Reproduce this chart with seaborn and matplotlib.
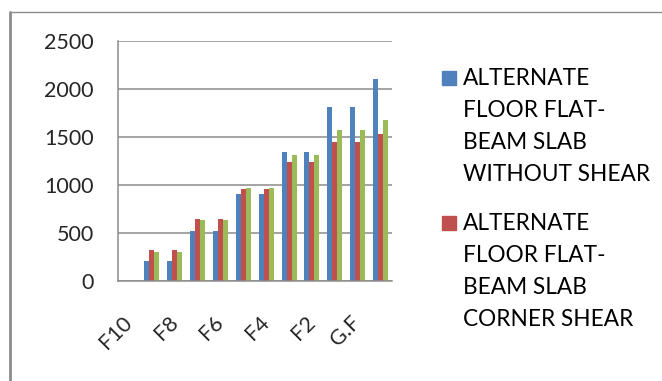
import numpy as np
import pandas as pd
import matplotlib
matplotlib.use('Agg')
import matplotlib.pyplot as plt
from matplotlib.lines import Line2D
from matplotlib.patches import Rectangle
import seaborn as sns

# data (12 floors, three series)
floors = ['F10', 'F9', 'F8', 'F7', 'F6', 'F5', 'F4', 'F3', 'F2', 'F1', 'G.F', 'BASE']
without_shear = [0, 205, 205, 517, 517, 903, 903, 1340, 1340, 1809, 1809, 2101]
corner_shear = [0, 320, 320, 642, 642, 955, 955, 1236, 1236, 1441, 1441, 1528]
third_series = [0, 299, 299, 632, 632, 969, 969, 1306, 1306, 1570, 1570, 1677]

series_names = ['ALTERNATE\nFLOOR FLAT-\nBEAM SLAB\nWITHOUT SHEAR',
                'ALTERNATE\nFLOOR FLAT-\nBEAM SLAB\nCORNER SHEAR',
                'ALTERNATE\nFLOOR FLAT-\nBEAM SLAB\nEDGE SHEAR']
colors = ['#4F81BD', '#C0504D', '#9BBB59']
yticks = [0, 500, 1000, 1500, 2000, 2500]

sns.set_style("white")
plt.rcParams['font.family'] = ['Lato', 'DejaVu Sans']

df = pd.DataFrame({
    'floor': floors * 3,
    'series': np.repeat(series_names, len(floors)),
    'value': without_shear + corner_shear + third_series,
})

fig = plt.figure(figsize=(6.62, 3.81), dpi=100)
ax = fig.add_axes([117.5 / 662, 1 - 280.7 / 381, (392 - 117.5) / 662, (280.7 - 40.7) / 381])

sns.barplot(data=df, x='floor', y='value', hue='series', order=floors,
            hue_order=series_names, palette=colors, saturation=1,
            width=0.655, gap=0, linewidth=0, ax=ax, legend=False)

grey = '#8C8C8C'
ax.set_ylim(0, 2500)
ax.set_xlim(-0.5, len(floors) - 0.5)
ax.set_yticks(yticks)
ax.set_yticklabels([str(v) for v in yticks], fontsize=15.5)
ax.yaxis.grid(True, color=grey, linewidth=1.1)
ax.set_axisbelow(True)

# labels on every other floor, tick marks on category boundaries
ax.set_xticks(range(0, len(floors) - 1, 2))
ax.set_xticklabels(floors[:-1:2], fontsize=15.5, rotation=45, ha='right',
                   va='center', rotation_mode='anchor')
ax.set_xticks(np.arange(-0.5, len(floors), 1), minor=True)
ax.tick_params(axis='x', which='major', length=0, pad=28)
ax.tick_params(axis='x', which='minor', length=6, width=1.1, color=grey, direction='out')
ax.tick_params(axis='y', length=6, width=1.1, color=grey, direction='out', pad=11)
ax.set_xlabel('')
ax.set_ylabel('')
for side in ['top', 'right']:
    ax.spines[side].set_visible(False)
for side in ['left', 'bottom']:
    ax.spines[side].set_color(grey)
    ax.spines[side].set_linewidth(1.1)

# legend: only the first two entries fit, as in the original
W, H = 662, 381
for i, (name, color) in enumerate(zip(series_names[:2], colors[:2])):
    top = 71 + i * 145
    fig.add_artist(Rectangle((441.5 / W, 1 - (top + 14) / H), 14 / W, 14 / H,
                             transform=fig.transFigure, color=color))
    for j, line in enumerate(name.split('\n')):
        fig.text(463 / W, 1 - (top + 14 + j * 32) / H, line, fontsize=16.3,
                 va='baseline', ha='left', color='black')

# chart-area frame (cut off at right and bottom)
fig.add_artist(Line2D([9.5 / W, 9.5 / W], [0, 1 - 11.5 / H], transform=fig.transFigure,
                      color=grey, linewidth=2))
fig.add_artist(Line2D([9.5 / W, 1], [1 - 11.5 / H, 1 - 11.5 / H], transform=fig.transFigure,
                      color=grey, linewidth=1))

fig.savefig('out.png', dpi=100)
